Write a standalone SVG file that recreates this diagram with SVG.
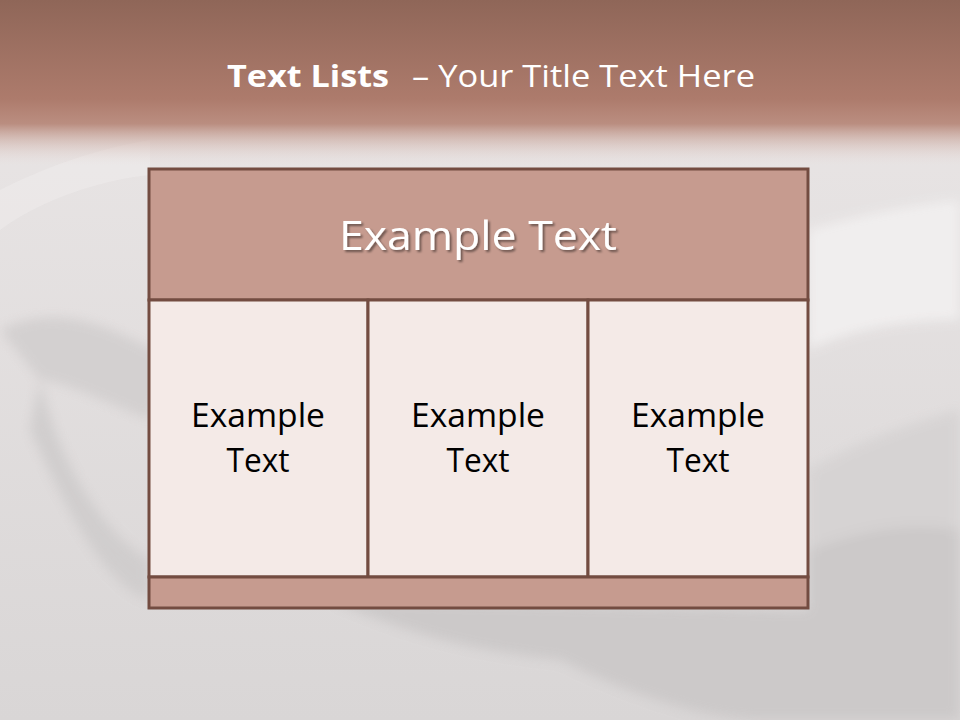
<svg xmlns="http://www.w3.org/2000/svg" width="960" height="720" viewBox="0 0 960 720">
<defs>
<linearGradient id="bg" x1="0" y1="0" x2="0" y2="1">
<stop offset="0" stop-color="#ebe7e7"/>
<stop offset="1" stop-color="#d9d6d6"/>
</linearGradient>
<linearGradient id="band" x1="0" y1="0" x2="0" y2="1">
<stop offset="0" stop-color="#8f6658"/>
<stop offset="0.6" stop-color="#ad7b6c"/>
<stop offset="0.75" stop-color="#b58475" stop-opacity="0.9"/>
<stop offset="1" stop-color="#e6d5d1" stop-opacity="0"/>
</linearGradient>
<filter id="sh" x="-10%" y="-10%" width="120%" height="130%">
<feDropShadow dx="2" dy="2" stdDeviation="1" flood-color="#000" flood-opacity="0.45"/>
</filter>
<filter id="blur"><feGaussianBlur stdDeviation="6"/></filter>
<style>
.cell{fill:#f4eae7;stroke:#734c41;stroke-width:3}
.bar{fill:#c69b8f;stroke:#734c41;stroke-width:3}
.ct{font-family:"Open Sans","Liberation Sans",sans-serif;font-size:33px;fill:#000;text-anchor:middle}
</style>
</defs>
<rect width="960" height="720" fill="url(#bg)"/>
<g filter="url(#blur)" opacity="0.9">
<path d="M0 330 C60 300 120 330 170 360 L150 420 C100 400 60 380 40 380 Z" fill="#d2cfcf"/>
<path d="M40 380 C60 470 110 540 150 560 L150 600 C110 590 70 520 30 430 Z" fill="#cfcccc"/>
<path d="M330 600 C400 630 460 650 560 660 C620 690 700 720 760 720 L960 720 L960 520 C900 500 850 520 808 540 L808 610 Z" fill="#cbc8c8"/>
<path d="M808 230 C860 215 910 205 960 200 L960 320 C900 320 850 330 808 350 Z" fill="#f2f0f0"/>
<path d="M808 470 C860 440 920 420 960 410 L960 530 C910 520 860 530 808 550 Z" fill="#d6d3d3"/>
</g>
<path d="M0 190 C40 170 90 150 150 140 L150 175 C100 180 40 200 0 230 Z" fill="#f3f1f1" opacity="0.4"/>
<rect x="0" y="0" width="960" height="165" fill="url(#band)"/>
<text x="227" y="87" font-family="'Open Sans','Liberation Sans',sans-serif" font-size="31" fill="#fff"><tspan font-weight="bold" textLength="162" lengthAdjust="spacingAndGlyphs">Text Lists</tspan><tspan x="412" textLength="343" lengthAdjust="spacingAndGlyphs">– Your Title Text Here</tspan></text>
<g id="table">
<g id="header">
<rect class="bar" x="149" y="169" width="659" height="131"/>
<text x="478" y="250" font-family="'Open Sans','Liberation Sans',sans-serif" font-size="40" fill="#fff" text-anchor="middle" filter="url(#sh)" textLength="278" lengthAdjust="spacingAndGlyphs">Example Text</text>
</g>
<g id="cell1">
<rect class="cell" x="149" y="300" width="219" height="277"/>
<text class="ct" x="258" y="427" textLength="134" lengthAdjust="spacingAndGlyphs">Example</text>
<text class="ct" x="258" y="472" textLength="63" lengthAdjust="spacingAndGlyphs">Text</text>
</g>
<g id="cell2">
<rect class="cell" x="368" y="300" width="220" height="277"/>
<text class="ct" x="478" y="427" textLength="134" lengthAdjust="spacingAndGlyphs">Example</text>
<text class="ct" x="478" y="472" textLength="63" lengthAdjust="spacingAndGlyphs">Text</text>
</g>
<g id="cell3">
<rect class="cell" x="588" y="300" width="220" height="277"/>
<text class="ct" x="698" y="427" textLength="134" lengthAdjust="spacingAndGlyphs">Example</text>
<text class="ct" x="698" y="472" textLength="63" lengthAdjust="spacingAndGlyphs">Text</text>
</g>
<g id="footer">
<rect class="bar" x="149" y="577" width="659" height="31"/>
</g>
</g>
<g id="connectors"/>
</svg>
